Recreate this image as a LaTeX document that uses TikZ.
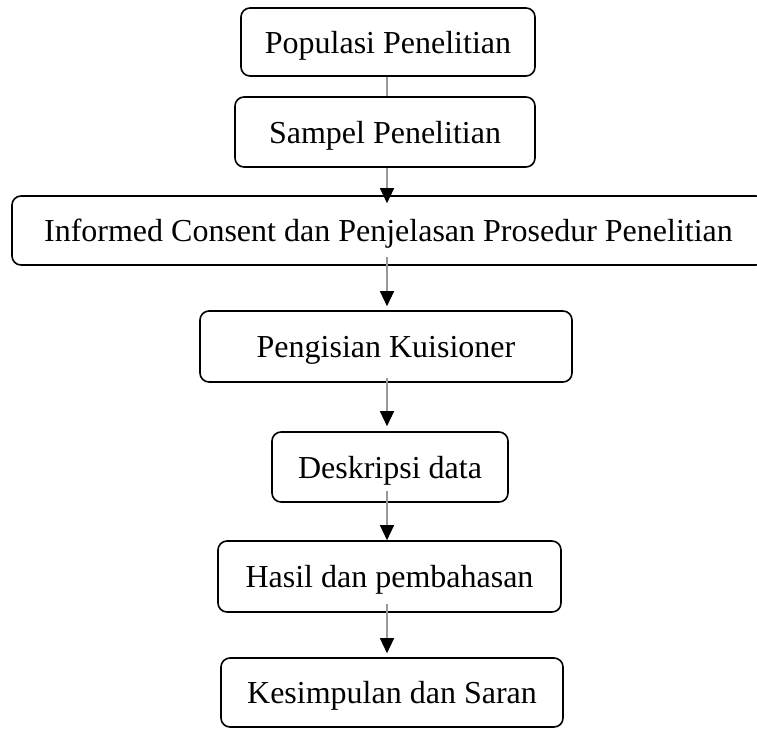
\documentclass[tikz,border=0pt]{standalone}
\usepackage{fontspec}
\setmainfont{Liberation Serif}
\usetikzlibrary{arrows.meta,calc}
\begin{document}
\begin{tikzpicture}[x=1pt,y=-1pt,
  box/.style={draw=black,line width=1.6pt,rounded corners=9pt,inner sep=0pt,
    text depth=0pt,font=\fontsize{32}{36}\selectfont,align=center},
  conn/.style={draw=black!40,line width=1.3pt},
  arr/.style={conn,-{Triangle[width=14pt,length=15pt,color=black]}}]
\useasboundingbox (0,0) rectangle (757,728);
\coordinate (axis) at (387,0);
\node[box,minimum width=294pt,minimum height=68pt] (pop) at (388,42) {Populasi Penelitian};
\node[box,minimum width=300pt,minimum height=70pt] (sampel) at (385,132) {Sampel Penelitian};
\node[box,minimum width=753pt,minimum height=69pt] (informed) at (388.5,230.5) {Informed Consent dan Penjelasan Prosedur Penelitian};
\node[box,minimum width=372pt,minimum height=71pt] (kuis) at (386,346.5) {Pengisian Kuisioner};
\node[box,minimum width=236pt,minimum height=70pt] (desk) at (390,467) {Deskripsi data};
\node[box,minimum width=343pt,minimum height=71pt] (hasil) at (389.5,576.5) {Hasil dan pembahasan};
\node[box,minimum width=342pt,minimum height=69pt] (kes) at (392,692.5) {Kesimpulan dan Saran};
\draw[conn] (pop.south -| axis) -- (sampel.north -| axis);
\draw[arr] (sampel.south -| axis) -- ($(informed.north -| axis)+(0,-8pt)$);
\draw[arr] ($(informed.south -| axis)+(0,9pt)$) -- ($(kuis.north -| axis)+(0,4pt)$);
\draw[arr] ($(kuis.south -| axis)+(0,5pt)$) -- ($(desk.north -| axis)+(0,5pt)$);
\draw[arr] ($(desk.south -| axis)+(0,12pt)$) -- (hasil.north -| axis);
\draw[arr] ($(hasil.south -| axis)+(0,9pt)$) -- ($(kes.north -| axis)+(0,4pt)$);
\end{tikzpicture}
\end{document}
